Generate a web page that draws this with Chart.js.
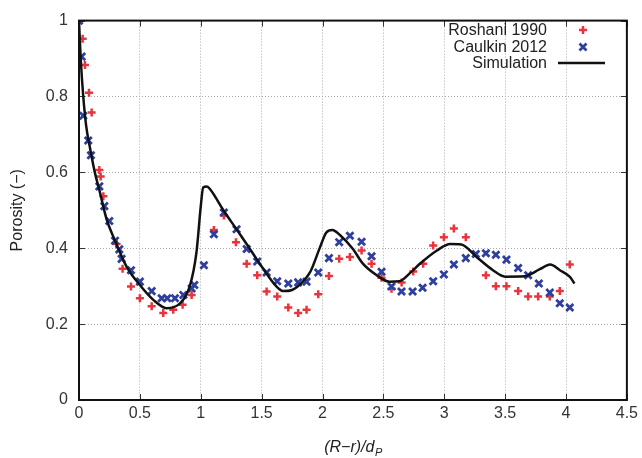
<!DOCTYPE html>
<html>
<head>
<meta charset="utf-8">
<script src="https://cdn.jsdelivr.net/npm/chart.js@4.4.0/dist/chart.umd.min.js"></script>
<style>
html,body{margin:0;padding:0;background:#fff;}
#wrap{width:642px;height:458px;}
</style>
</head>
<body>
<div id="wrap"><canvas id="c" width="642" height="458"></canvas></div>
<script>
// ---- data ----
const roshaniX = [0.03,0.049,0.082,0.104,0.167,0.178,0.2,0.309,0.358,0.427,0.5,0.597,0.692,0.774,0.851,0.925,
  1.108,1.19,1.289,1.377,1.464,1.541,1.628,1.719,1.8,1.869,1.965,2.053,2.137,2.225,2.321,2.403,2.485,2.567,2.65,2.745,2.827,2.909,2.997,3.079,3.177,
  3.342,3.424,3.511,3.607,3.689,3.771,3.867,3.949,4.031];
const roshaniY = [0.952,0.883,0.81,0.758,0.606,0.589,0.537,0.411,0.346,0.299,0.268,0.247,0.229,0.238,0.251,0.277,
  0.448,0.486,0.416,0.359,0.329,0.286,0.273,0.244,0.229,0.238,0.279,0.327,0.372,0.377,0.394,0.359,0.322,0.293,0.31,0.339,0.359,0.407,0.429,0.452,0.429,
  0.329,0.3,0.3,0.287,0.273,0.273,0.273,0.287,0.357];

const caulkinX = [0,0.022,0.035,0.076,0.098,0.167,0.208,0.249,0.296,0.331,0.35,0.427,0.5,0.597,0.679,0.725,0.788,0.857,0.925,0.947,
  1.026,1.108,1.19,1.294,1.377,1.464,1.541,1.628,1.719,1.8,1.869,1.965,2.053,2.137,2.225,2.321,2.403,2.485,2.567,2.649,2.74,2.822,2.909,2.997,
  3.079,3.177,3.259,3.342,3.424,3.511,3.607,3.689,3.777,3.867,3.949,4.031];
const caulkinY = [1.0,0.905,0.749,0.684,0.645,0.563,0.511,0.472,0.42,0.397,0.372,0.342,0.312,0.287,0.268,0.268,0.268,0.277,0.294,0.303,
  0.355,0.437,0.494,0.45,0.398,0.365,0.336,0.313,0.307,0.31,0.312,0.336,0.374,0.416,0.433,0.417,0.379,0.338,0.299,0.286,0.286,0.296,0.313,0.331,
  0.357,0.374,0.385,0.387,0.383,0.37,0.348,0.329,0.307,0.283,0.255,0.244];

const simX = [0,0.014,0.035,0.06,0.09,0.13,0.17,0.227,0.296,0.392,0.5,0.61,0.72,0.83,0.91,0.965,1.0,1.02,1.05,1.08,1.19,1.294,1.404,1.513,1.62,1.68,1.75,1.8,1.9,1.98,2.03,2.08,2.143,2.25,2.33,2.44,2.55,2.63,2.72,2.8,2.94,3.05,3.14,3.265,3.4,3.5,3.66,3.785,3.87,3.95,4.03,4.07];
const simY = [1.0,0.9,0.8,0.72,0.665,0.6,0.55,0.476,0.42,0.351,0.303,0.264,0.242,0.255,0.3,0.39,0.51,0.56,0.563,0.554,0.498,0.45,0.398,0.346,0.3,0.287,0.29,0.3,0.338,0.403,0.441,0.448,0.435,0.398,0.36,0.33,0.312,0.313,0.335,0.359,0.394,0.411,0.41,0.377,0.342,0.325,0.326,0.345,0.357,0.342,0.325,0.307];

const xTicks = [0,0.5,1,1.5,2,2.5,3,3.5,4,4.5];
const yTicks = [0,0.2,0.4,0.6,0.8,1];
const seriesNames = ['Roshani 1990','Caulkin 2012','Simulation'];
const xTitleMain = '(R\u2212r)/d';
const xTitleSub = 'P';
const yTitle = 'Porosity (\u2212)';

const toPts = (xs, ys) => xs.map((x, i) => ({x: x, y: ys[i]}));

const FONT = '"Liberation Sans", Arial, Helvetica, sans-serif';
const RED = '#e8343c';
const BLUE = '#2f3f9e';

const framePlugin = {
  id: 'frame',
  beforeDatasetsDraw(chart) {
    const {ctx, chartArea: a} = chart;
    const xs = chart.scales.x, ys = chart.scales.y;
    ctx.save();
    ctx.strokeStyle = '#333';
    ctx.lineWidth = 1;
    const tl = 6;
    xTicks.forEach(v => {
      const p = Math.round(xs.getPixelForValue(v)) + 0.5;
      ctx.beginPath();
      ctx.moveTo(p, a.bottom); ctx.lineTo(p, a.bottom - tl);
      ctx.moveTo(p, a.top); ctx.lineTo(p, a.top + tl);
      ctx.stroke();
    });
    yTicks.forEach(v => {
      const p = Math.round(ys.getPixelForValue(v)) + 0.5;
      ctx.beginPath();
      ctx.moveTo(a.left, p); ctx.lineTo(a.left + tl, p);
      ctx.moveTo(a.right, p); ctx.lineTo(a.right - tl, p);
      ctx.stroke();
    });
    ctx.restore();
  },
  afterDraw(chart) {
    const {ctx, chartArea: a} = chart;
    ctx.save();
    ctx.strokeStyle = '#111';
    ctx.lineWidth = 2;
    ctx.strokeRect(a.left, a.top, a.right - a.left, a.bottom - a.top);

    // x axis title with subscript
    ctx.fillStyle = '#222';
    ctx.textBaseline = 'alphabetic';
    ctx.font = 'italic 16px ' + FONT;
    const wMain = ctx.measureText(xTitleMain).width;
    ctx.font = 'italic 11px ' + FONT;
    const wSub = ctx.measureText(xTitleSub).width;
    const cx = (a.left + a.right) / 2;
    const x0 = cx - (wMain + wSub) / 2;
    ctx.font = 'italic 16px ' + FONT;
    ctx.textAlign = 'left';
    ctx.fillText(xTitleMain, x0, 452);
    ctx.font = 'italic 11px ' + FONT;
    ctx.fillText(xTitleSub, x0 + wMain + 0.5, 456);

    // legend (text left of symbol)
    const rowsY = [30, 47, 63];
    ctx.font = '16px ' + FONT;
    ctx.textAlign = 'right';
    ctx.textBaseline = 'middle';
    chart.data.datasets.forEach((ds, i) => {
      ctx.fillStyle = '#222';
      ctx.fillText(ds.label, 547, rowsY[i] + 1);
      const mx = 583, my = rowsY[i];
      if (i === 0) {
        ctx.strokeStyle = ds.borderColor; ctx.lineWidth = 2.5;
        ctx.beginPath(); ctx.moveTo(mx - 4, my); ctx.lineTo(mx + 4, my);
        ctx.moveTo(mx, my - 4); ctx.lineTo(mx, my + 4); ctx.stroke();
      } else if (i === 1) {
        ctx.strokeStyle = ds.borderColor; ctx.lineWidth = 2.8;
        ctx.beginPath(); ctx.moveTo(mx - 3.5, my - 3.5); ctx.lineTo(mx + 3.5, my + 3.5);
        ctx.moveTo(mx - 3.5, my + 3.5); ctx.lineTo(mx + 3.5, my - 3.5); ctx.stroke();
      } else {
        ctx.strokeStyle = ds.borderColor; ctx.lineWidth = 2.5;
        ctx.beginPath(); ctx.moveTo(558, my); ctx.lineTo(605, my); ctx.stroke();
      }
    });
    ctx.restore();
  }
};

new Chart(document.getElementById('c'), {
  type: 'scatter',
  data: {
    datasets: [
      {
        label: seriesNames[0],
        data: toPts(roshaniX, roshaniY),
        pointStyle: 'cross',
        pointRadius: 4,
        pointBorderWidth: 2.5,
        borderColor: RED,
        backgroundColor: RED,
        showLine: false,
        order: 3
      },
      {
        label: seriesNames[1],
        data: toPts(caulkinX, caulkinY),
        pointStyle: 'crossRot',
        pointRadius: 5,
        pointBorderWidth: 2.8,
        borderColor: BLUE,
        backgroundColor: BLUE,
        showLine: false,
        order: 2
      },
      {
        label: seriesNames[2],
        data: toPts(simX, simY),
        showLine: true,
        pointRadius: 0,
        borderColor: '#111',
        backgroundColor: '#111',
        borderWidth: 2.5,
        cubicInterpolationMode: 'monotone',
        order: 1
      }
    ]
  },
  options: {
    responsive: false,
    animation: false,
    events: [],
    layout: {padding: {left: 0, right: 15, top: 15, bottom: 0}},
    plugins: {legend: {display: false}, tooltip: {enabled: false}},
    scales: {
      x: {
        type: 'linear', min: 0, max: 4.5,
        afterBuildTicks: s => { s.ticks = xTicks.map(v => ({value: v})); },
        afterFit: s => { s.height = 58; },
        grid: {color: '#aaa', lineWidth: 1, drawTicks: false, tickBorderDash: [1, 2]},
        border: {display: false, dash: [1, 2]},
        ticks: {color: '#333', font: {family: FONT, size: 16}, padding: 4, maxRotation: 0,
          callback: v => String(v)}
      },
      y: {
        type: 'linear', min: 0, max: 1,
        afterBuildTicks: s => { s.ticks = yTicks.map(v => ({value: v})); },
        afterFit: s => { s.width = 79; },
        grid: {color: '#aaa', lineWidth: 1, drawTicks: false},
        border: {display: false, dash: [1, 2]},
        ticks: {color: '#333', font: {family: FONT, size: 16}, padding: 11,
          callback: v => String(v)},
        title: {display: true, text: yTitle, color: '#222', font: {family: FONT, size: 16}, padding: {top: 8, bottom: 0}}
      }
    }
  },
  plugins: [framePlugin]
});
</script>
</body>
</html>
